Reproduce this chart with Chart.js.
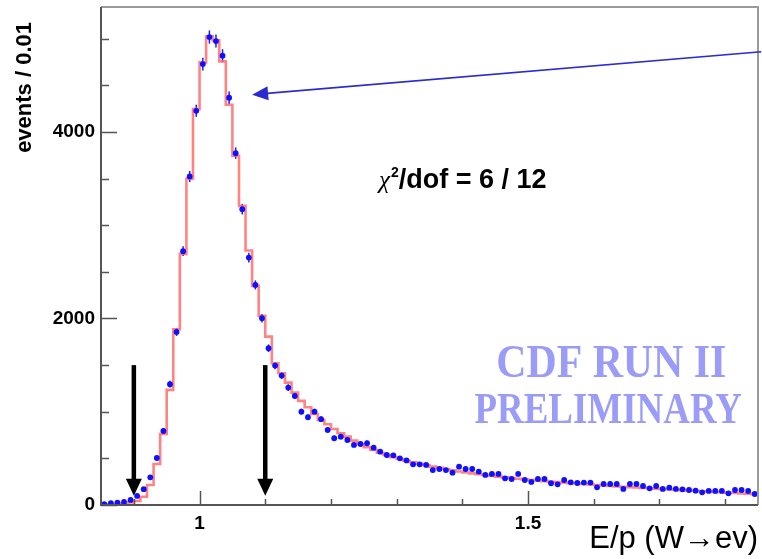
<!DOCTYPE html>
<html lang="en">
<head>
<meta charset="UTF-8">
<title>E/p (W→eν) - CDF Run II preliminary</title>
<style>
  html, body { margin: 0; padding: 0; background: #fff; }
  canvas { display: block; }
</style>
</head>
<body>
<canvas id="ep" width="762" height="559"></canvas>
<script src="https://cdn.jsdelivr.net/npm/chart.js"></script>
<script>
// binning: E/p from 0.85 to 1.85, 0.01 per bin (100 bins)
const binStart = 0.85;
const binWidth = 0.01;

// data (blue points), events per bin
const dataCounts = [
  10, 20, 25, 32, 54, 97, 170, 297, 504, 794,
  1295, 1856, 2722, 3523, 4227, 4728, 5018, 4975, 4818, 4367,
  3773, 3172, 2653, 2360, 2003, 1681, 1495, 1388, 1259, 1170,
  1001, 941, 1001, 920, 805, 716, 733, 697, 644, 654,
  662, 615, 572, 536, 533, 501, 478, 436, 436, 430,
  375, 386, 375, 347, 411, 386, 386, 358, 322, 333,
  333, 286, 279, 333, 268, 247, 279, 279, 233, 222,
  268, 243, 236, 240, 240, 190, 225, 225, 225, 172,
  225, 225, 204, 179, 204, 172, 186, 172, 168, 161,
  154, 136, 151, 151, 151, 125, 161, 161, 151, 118
];

// fit template (red histogram)
const fitCounts = [
  5, 8, 12, 18, 28, 43, 89, 215, 440, 762,
  1234, 1885, 2693, 3500, 4245, 4746, 5025, 4982, 4757, 4292,
  3745, 3208, 2729, 2350, 2028, 1806, 1520, 1413, 1312, 1205,
  1116, 1048, 976, 912, 866, 815, 769, 733, 690, 651,
  619, 590, 561, 536, 512, 494, 475, 458, 442, 427,
  412, 398, 385, 372, 360, 349, 339, 330, 321, 312,
  304, 296, 289, 282, 275, 268, 262, 256, 250, 245,
  240, 235, 230, 225, 220, 215, 210, 205, 200, 196,
  192, 188, 184, 180, 176, 172, 168, 164, 160, 156,
  152, 148, 144, 140, 136, 132, 128, 124, 120, 116
];

const xTicks = [0.9, 1.0, 1.1, 1.2, 1.3, 1.4, 1.5, 1.6, 1.7, 1.8];
const xLabelled = [1.0, 1.5];
const yTicks = [0, 500, 1000, 1500, 2000, 2500, 3000, 3500, 4000, 4500, 5000];
const yLabelled = [0, 2000, 4000];
const yMax = 5340;

// cut arrows (black) and the pointer arrow (blue), in data units
const cutX = [0.9, 1.1];
const cutTop = 1500;
const cutTip = 100;
const pointerFrom = [1.855, 4860];
const pointerTo = [1.08, 4400];

const binEdges = [];
for (let i = 0; i <= dataCounts.length; i++) binEdges.push(+(binStart + i * binWidth).toFixed(3));

const fitLine = fitCounts.map((v, i) => ({ x: binEdges[i], y: v }));
fitLine.push({ x: binEdges[binEdges.length - 1], y: fitCounts[fitCounts.length - 1] });
const dataPoints = dataCounts.map((v, i) => ({ x: (binEdges[i] + binEdges[i + 1]) / 2, y: v }));

const near = (a, b) => Math.abs(a - b) < 1e-6;
const sansBold = '"Liberation Sans", Arial, sans-serif';

// frame, inward ticks, error bars, arrows and texts
const decorations = {
  id: 'decorations',
  beforeDatasetsDraw(chart) {
    const { ctx, scales: { x, y } } = chart;
    ctx.save();
    // error bars
    ctx.strokeStyle = '#1a1aff';
    ctx.lineWidth = 1.5;
    dataPoints.forEach(p => {
      const e = Math.sqrt(p.y);
      const px = x.getPixelForValue(p.x);
      ctx.beginPath();
      ctx.moveTo(px, y.getPixelForValue(p.y - e));
      ctx.lineTo(px, y.getPixelForValue(p.y + e));
      ctx.stroke();
    });
    ctx.restore();
  },
  afterDatasetsDraw(chart) {
    const { ctx, chartArea: a, scales: { x, y } } = chart;
    ctx.save();

    // frame
    ctx.lineWidth = 2;
    ctx.strokeStyle = '#9a9a9a';
    ctx.beginPath();
    ctx.moveTo(a.left, a.top); ctx.lineTo(a.right, a.top); ctx.lineTo(a.right, a.bottom);
    ctx.stroke();
    ctx.strokeStyle = '#555';
    ctx.beginPath();
    ctx.moveTo(a.left, a.top); ctx.lineTo(a.left, a.bottom); ctx.lineTo(a.right, a.bottom);
    ctx.stroke();

    // y ticks, pointing inwards
    ctx.lineWidth = 1.5;
    yTicks.forEach(v => {
      const py = Math.round(y.getPixelForValue(v)) + 0.5;
      const len = yLabelled.includes(v) ? 16 : 8;
      ctx.beginPath(); ctx.moveTo(a.left, py); ctx.lineTo(a.left + len, py); ctx.stroke();
    });
    // x ticks
    xTicks.forEach(v => {
      const px = Math.round(x.getPixelForValue(v)) + 0.5;
      const len = xLabelled.some(l => near(l, v)) ? 14 : 6;
      ctx.beginPath(); ctx.moveTo(px, a.bottom); ctx.lineTo(px, a.bottom - len); ctx.stroke();
    });

    // black cut arrows
    ctx.fillStyle = '#000';
    ctx.strokeStyle = '#000';
    cutX.forEach(cx => {
      const px = x.getPixelForValue(cx);
      const top = y.getPixelForValue(cutTop);
      const tip = y.getPixelForValue(cutTip);
      ctx.lineWidth = 4.5;
      ctx.beginPath(); ctx.moveTo(px, top); ctx.lineTo(px, tip - 14); ctx.stroke();
      ctx.beginPath();
      ctx.moveTo(px - 8, tip - 17); ctx.lineTo(px + 8, tip - 17); ctx.lineTo(px, tip);
      ctx.closePath(); ctx.fill();
    });

    // blue pointer arrow (runs out of the frame on the right)
    const fx = x.getPixelForValue(pointerFrom[0]), fy = y.getPixelForValue(pointerFrom[1]);
    const tx = x.getPixelForValue(pointerTo[0]), ty = y.getPixelForValue(pointerTo[1]);
    const ang = Math.atan2(ty - fy, tx - fx);
    ctx.strokeStyle = '#2b2bd0';
    ctx.fillStyle = '#2b2bd0';
    ctx.lineWidth = 1.6;
    ctx.beginPath(); ctx.moveTo(fx, fy); ctx.lineTo(tx - 12 * Math.cos(ang), ty - 12 * Math.sin(ang)); ctx.stroke();
    ctx.beginPath();
    ctx.moveTo(tx, ty);
    ctx.lineTo(tx - 16 * Math.cos(ang) + 7 * Math.sin(ang), ty - 16 * Math.sin(ang) - 7 * Math.cos(ang));
    ctx.lineTo(tx - 16 * Math.cos(ang) - 7 * Math.sin(ang), ty - 16 * Math.sin(ang) + 7 * Math.cos(ang));
    ctx.closePath(); ctx.fill();

    // y axis title, top aligned like ROOT does it
    ctx.save();
    ctx.translate(25, 22);
    ctx.rotate(-Math.PI / 2);
    ctx.fillStyle = '#000';
    ctx.textAlign = 'right';
    ctx.textBaseline = 'middle';
    ctx.font = 'bold 22px ' + sansBold;
    ctx.fillText('events / 0.01', 0, 0);
    ctx.restore();

    // chi2 text
    let cx = x.getPixelForValue(1.273);
    const cy = y.getPixelForValue(3400);
    ctx.fillStyle = '#000';
    ctx.textBaseline = 'alphabetic';
    ctx.textAlign = 'left';
    ctx.font = 'italic 25px "Liberation Serif"';
    ctx.fillText('χ', cx, cy);
    cx += ctx.measureText('χ').width + 1;
    ctx.font = 'bold 14px ' + sansBold;
    ctx.fillText('2', cx, cy - 11);
    cx += ctx.measureText('2').width;
    ctx.font = 'bold 27px ' + sansBold;
    ctx.fillText('/dof = 6 / 12', cx, cy);

    // CDF watermark
    const stamp = (text, size, cxv, byv, wv) => {
      ctx.font = 'bold ' + size + 'px "Liberation Serif"';
      const w = ctx.measureText(text).width;
      const target = x.getPixelForValue(cxv + wv / 2) - x.getPixelForValue(cxv - wv / 2);
      ctx.save();
      ctx.translate(x.getPixelForValue(cxv), y.getPixelForValue(byv));
      ctx.scale(target / w, 1);
      ctx.textAlign = 'center';
      ctx.fillStyle = '#9a9cf7';
      ctx.fillText(text, 0, 0);
      ctx.restore();
    };
    stamp('CDF RUN II', 46, 1.6266, 1373, 0.35);
    stamp('PRELIMINARY', 44, 1.622, 880, 0.407);

    ctx.restore();
  }
};

new Chart(document.getElementById('ep'), {
  data: {
    datasets: [
      {
        type: 'scatter',
        label: 'data',
        data: dataPoints,
        pointRadius: 2.9,
        pointBackgroundColor: '#1010ff',
        pointBorderWidth: 0,
        order: 0
      },
      {
        type: 'line',
        label: 'fit',
        data: fitLine,
        stepped: true,
        borderColor: 'rgba(255,100,100,0.8)',
        borderWidth: 2.6,
        pointRadius: 0,
        fill: false,
        order: 1
      }
    ]
  },
  options: {
    responsive: false,
    animation: false,
    devicePixelRatio: 1,
    layout: { padding: { top: 7, right: 3, left: 0, bottom: 0 } },
    plugins: { legend: { display: false }, tooltip: { enabled: false } },
    scales: {
      x: {
        type: 'linear',
        min: binStart,
        max: binEdges[binEdges.length - 1],
        grid: { display: false, drawTicks: false, tickLength: 0 },
        border: { display: false },
        afterBuildTicks: scale => { scale.ticks = xTicks.map(v => ({ value: v })); },
        afterFit: scale => {
          scale.height = 54;
          scale.paddingLeft = 0;
          scale.paddingRight = 0;
        },
        ticks: {
          autoSkip: false,
          maxRotation: 0,
          padding: 7,
          color: '#000',
          font: { family: sansBold, size: 19, weight: 'bold' },
          callback: v => (xLabelled.some(l => near(l, v)) ? String(+v.toFixed(1)) : '')
        },
        title: {
          display: true,
          text: 'E/p (W→ev)',
          align: 'end',
          color: '#000',
          padding: { top: 0, bottom: 1 },
          font: { family: sansBold, size: 31 }
        }
      },
      y: {
        type: 'linear',
        min: 0,
        max: yMax,
        grid: { display: false, drawTicks: false, tickLength: 0 },
        border: { display: false },
        afterBuildTicks: scale => { scale.ticks = yTicks.map(v => ({ value: v })); },
        afterFit: scale => {
          scale.width = 101;
          scale.paddingTop = 0;
          scale.paddingBottom = 0;
        },
        ticks: {
          autoSkip: false,
          padding: 6,
          color: '#000',
          font: { family: sansBold, size: 19, weight: 'bold' },
          callback: v => (yLabelled.includes(v) ? String(v) : '')
        }
      }
    }
  },
  plugins: [decorations]
});
</script>
</body>
</html>
